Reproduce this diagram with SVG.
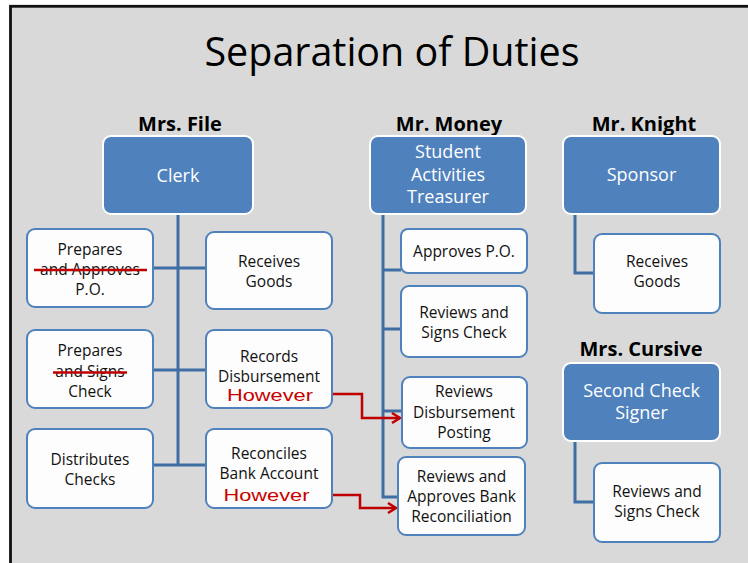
<svg xmlns="http://www.w3.org/2000/svg" width="748" height="563" viewBox="0 0 748 563">
  <defs>
    <style>
      .t { font-family: "Open Sans", "Noto Sans", sans-serif; fill: #000; text-anchor: middle; }
      .title { font-size: 40px; }
      .head { font-size: 20px; font-weight: bold; }
      .role rect { fill: #4f81bd; stroke: #ffffff; stroke-width: 2; }
      .role text { font-family: "Open Sans", "Noto Sans", sans-serif; font-size: 18px; fill: #ffffff; text-anchor: middle; }
      .task rect { fill: #fdfdfd; stroke: #4f81bd; stroke-width: 2; }
      .task text { font-family: "Open Sans", "Noto Sans", sans-serif; font-size: 15.5px; fill: #111; text-anchor: middle; }
      .task text.warn { font-family: "Liberation Sans", Arial, sans-serif; font-size: 16.5px; fill: #c80000; }
      .strike { stroke: #c00000; stroke-width: 2.5; }
      .link { fill: none; stroke: #3f6ea5; stroke-width: 3; }
      .flow { fill: none; stroke: #c00000; stroke-width: 2.5; }
    </style>
    <marker id="arrow" markerUnits="userSpaceOnUse" markerWidth="12" markerHeight="14" refX="9" refY="6" orient="auto">
      <path d="M1,1 L9,6 L1,11" fill="none" stroke="#c00000" stroke-width="2.5"/>
    </marker>
  </defs>

  <!-- page -->
  <rect x="0" y="0" width="748" height="563" fill="#ffffff"/>
  <rect x="10.5" y="6.3" width="745" height="570" fill="#d9d9d9" stroke="#111" stroke-width="2.8"/>

  <text class="t title" x="392" y="66" textLength="375" lengthAdjust="spacingAndGlyphs">Separation of Duties</text>

  <!-- person headings -->
  <text class="t head" x="180" y="131">Mrs. File</text>
  <text class="t head" x="449" y="131">Mr. Money</text>
  <text class="t head" x="644" y="131">Mr. Knight</text>
  <text class="t head" x="641" y="356">Mrs. Cursive</text>

  <!-- connectors -->
  <g id="connectors">
    <path class="link" d="M178,214 V465 M153,268 H206 M153,370 H206 M153,465 H206"/>
    <path class="link" d="M383,214 V497 H398 M383,270 H401 M383,329 H401 M383,411 H402"/>
    <path class="link" d="M575,214 V273 H594"/>
    <path class="link" d="M575,441 V502 H594"/>
    <path class="flow" d="M323,394 H362 V418 H400" marker-end="url(#arrow)"/>
    <path class="flow" d="M320,495 H360 V508 H396" marker-end="url(#arrow)"/>
  </g>

  <!-- role boxes -->
  <g id="clerk" class="role">
    <rect x="103" y="136" width="150" height="78" rx="8"/>
    <text x="178" y="182">Clerk</text>
  </g>
  <g id="treasurer" class="role">
    <rect x="370" y="136" width="156" height="78" rx="8"/>
    <text x="448" y="158">Student</text>
    <text x="448" y="181">Activities</text>
    <text x="448" y="203">Treasurer</text>
  </g>
  <g id="sponsor" class="role">
    <rect x="563" y="136" width="157" height="78" rx="8"/>
    <text x="641.5" y="181">Sponsor</text>
  </g>
  <g id="second-signer" class="role">
    <rect x="563" y="363" width="157" height="78" rx="8"/>
    <text x="641.5" y="397">Second Check</text>
    <text x="641.5" y="419">Signer</text>
  </g>

  <!-- Mrs. File tasks -->
  <g id="prepares-po" class="task">
    <rect x="27" y="229" width="126" height="78" rx="8"/>
    <text x="90" y="255">Prepares</text>
    <text x="90" y="275">and Approves</text>
    <text x="90" y="295">P.O.</text>
    <line class="strike" x1="34" y1="270" x2="147" y2="270"/>
  </g>
  <g id="receives-goods-clerk" class="task">
    <rect x="206" y="232" width="126" height="77" rx="8"/>
    <text x="269" y="267">Receives</text>
    <text x="269" y="287">Goods</text>
  </g>
  <g id="prepares-check" class="task">
    <rect x="27" y="330" width="126" height="78" rx="8"/>
    <text x="90" y="356">Prepares</text>
    <text x="90" y="376.5">and Signs</text>
    <text x="90" y="397">Check</text>
    <line class="strike" x1="53" y1="372.5" x2="127" y2="372.5"/>
  </g>
  <g id="records-disbursement" class="task">
    <rect x="206" y="330" width="126" height="78" rx="8"/>
    <text x="269" y="362">Records</text>
    <text x="269" y="382">Disbursement</text>
    <text class="warn" x="270" y="400.5" textLength="86" lengthAdjust="spacingAndGlyphs">However</text>
  </g>
  <g id="distributes-checks" class="task">
    <rect x="27" y="429" width="126" height="79" rx="8"/>
    <text x="90" y="465">Distributes</text>
    <text x="90" y="485">Checks</text>
  </g>
  <g id="reconciles-bank" class="task">
    <rect x="206" y="429" width="126" height="79" rx="8"/>
    <text x="269" y="459">Reconciles</text>
    <text x="269" y="479">Bank Account</text>
    <text class="warn" x="266.5" y="500.5" textLength="86" lengthAdjust="spacingAndGlyphs">However</text>
  </g>

  <!-- Mr. Money tasks -->
  <g id="approves-po" class="task">
    <rect x="401" y="229" width="126" height="44" rx="7"/>
    <text x="464" y="257">Approves P.O.</text>
  </g>
  <g id="reviews-signs-check" class="task">
    <rect x="401" y="286" width="126" height="71" rx="8"/>
    <text x="464" y="318">Reviews and</text>
    <text x="464" y="338">Signs Check</text>
  </g>
  <g id="reviews-disbursement" class="task">
    <rect x="402" y="377" width="125" height="71" rx="8"/>
    <text x="464" y="397">Reviews</text>
    <text x="464" y="417.5">Disbursement</text>
    <text x="464" y="438">Posting</text>
  </g>
  <g id="reviews-reconciliation" class="task">
    <rect x="398" y="457" width="127" height="78" rx="8"/>
    <text x="461.5" y="482">Reviews and</text>
    <text x="461.5" y="502">Approves Bank</text>
    <text x="461.5" y="522">Reconciliation</text>
  </g>

  <!-- Mr. Knight / Mrs. Cursive tasks -->
  <g id="receives-goods-sponsor" class="task">
    <rect x="594" y="234" width="126" height="79" rx="8"/>
    <text x="657" y="267">Receives</text>
    <text x="657" y="287">Goods</text>
  </g>
  <g id="signs-check-second" class="task">
    <rect x="594" y="463" width="126" height="79" rx="8"/>
    <text x="657" y="497">Reviews and</text>
    <text x="657" y="517">Signs Check</text>
  </g>
</svg>
